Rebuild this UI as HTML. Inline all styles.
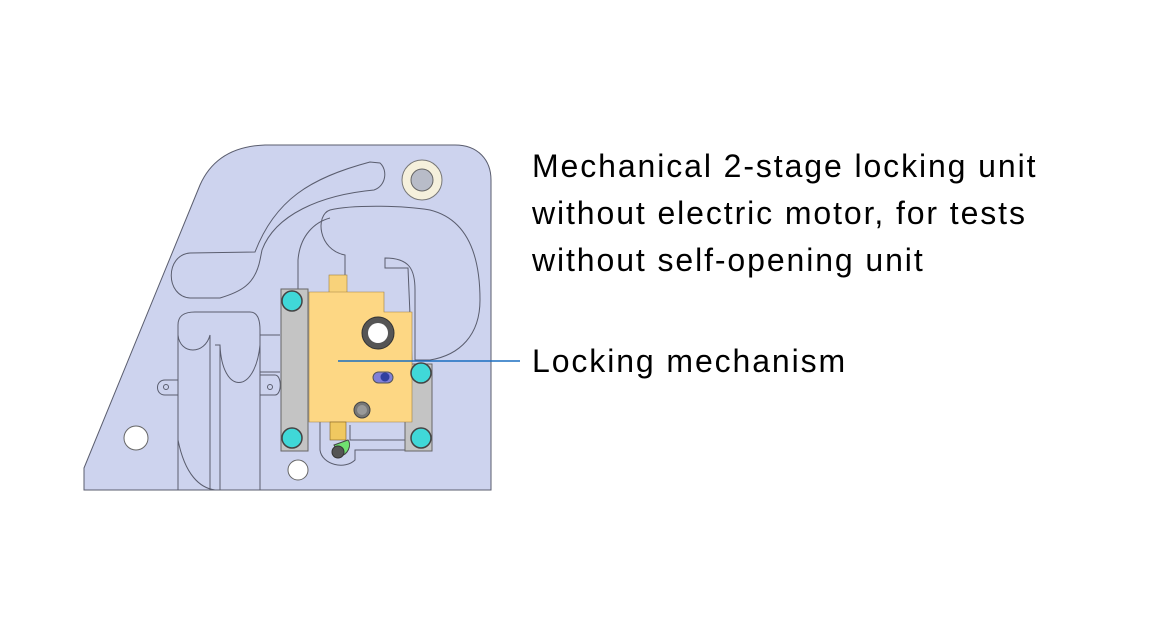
<!DOCTYPE html>
<html><head><meta charset="utf-8"><style>
body{margin:0;background:#fff;width:1162px;height:638px;overflow:hidden;position:relative;font-family:"Liberation Sans",sans-serif}
.t{position:absolute;left:532px;font-family:"Liberation Sans",sans-serif;font-size:32px;letter-spacing:1.9px;color:#000;line-height:47px;white-space:nowrap}
</style></head><body>
<svg width="1162" height="638" style="position:absolute;left:0;top:0">
<g stroke="#5a5d6e" stroke-width="1" fill="none">
<path d="M84,490 L84,468 L200,185 C212,158 235,146 265,145 L455,145 C478,145 491,160 491,180 L491,490 Z" fill="#cdd3ee"/>
<path d="M380,163 C388,170 386,186 374,190 C320,195 275,215 262,250 L260,260 C255,285 240,292 220,298 L190,298 C165,296 165,255 190,253 L255,252 C275,200 310,178 370,162 Z"/>
<path d="M330,210 C350,205 400,205 430,210 C470,220 480,260 480,300 C480,335 460,355 430,360 L415,360 L415,290 C415,270 410,258 385,258 L385,268 L408,268 L412,362 M330,210 C315,215 318,250 345,255 L345,285"/>
<path d="M298,295 L298,260 C300,235 315,222 330,218"/>
<path d="M178,490 L178,325 C178,315 185,312 195,312 L250,312 C258,312 260,320 260,330 L260,490"/>
<path d="M178,335 C180,355 205,355 210,335 L210,490"/>
<path d="M220,345 C222,395 255,395 260,345"/>
<path d="M215,345 L220,345 L220,490"/>
<path d="M178,380 L165,380 C155,380 155,395 165,395 L178,395"/><circle cx="166" cy="387" r="2.5"/>
<path d="M260,375 L275,375 C282,375 282,395 275,395 L260,395"/><circle cx="270" cy="387" r="2.5"/>
<path d="M260,335 L280,335 M260,372 L280,372"/>
<path d="M178,440 C185,475 200,488 215,490"/>
<path d="M320,420 L320,450 C322,465 345,470 355,460 L355,450 L405,450"/>
<path d="M350,425 L350,440 L405,440"/>
</g>
<circle cx="422" cy="180" r="20" fill="#f5f0dc" stroke="#777"/>
<circle cx="422" cy="180" r="11" fill="#b8bcc8" stroke="#666"/>
<circle cx="136" cy="438" r="12" fill="#fff" stroke="#666"/>
<circle cx="298" cy="470" r="10" fill="#fff" stroke="#666"/>
<rect x="281" y="289" width="27" height="162" fill="#c4c4c4" stroke="#666"/>
<rect x="405" y="364" width="27" height="87" fill="#c4c4c4" stroke="#666"/>
<rect x="329" y="275" width="18" height="18" fill="#f8d27a" stroke="#a08040" stroke-width=".6"/>
<path d="M309,292 L384,292 L384,312 L412,312 L412,422 L309,422 Z" fill="#fdd784" stroke="#a08040" stroke-width=".6"/>
<rect x="330" y="422" width="16" height="18" fill="#f0c860" stroke="#806020" stroke-width=".6"/>
<circle cx="378" cy="333" r="16" fill="#555" stroke="#333"/>
<circle cx="378" cy="333" r="10" fill="#fff"/>
<rect x="373" y="372" width="20" height="11" rx="5.5" fill="#8080d8" stroke="#555"/>
<circle cx="385" cy="377" r="4.5" fill="#3040a0"/>
<circle cx="362" cy="410" r="8" fill="#777" stroke="#444"/>
<circle cx="362" cy="410" r="5" fill="#999"/>
<path d="M334,445 L348,440 C352,445 348,455 340,456 Z" fill="#70e070" stroke="#444"/>
<circle cx="338" cy="452" r="6" fill="#555" stroke="#333"/>
<g fill="#40d8d8" stroke="#444" stroke-width="1.5">
<circle cx="292" cy="301" r="10"/><circle cx="292" cy="438" r="10"/>
<circle cx="421" cy="373" r="10"/><circle cx="421" cy="438" r="10"/>
</g>
<line x1="338" y1="361" x2="520" y2="361" stroke="#1a6ec0" stroke-width="1.5"/>
</svg>
<div class="t" style="top:143px">Mechanical 2-stage locking unit<br>without electric motor, for tests<br>without self-opening unit</div>
<div class="t" style="top:338px">Locking mechanism</div>
</body></html>
